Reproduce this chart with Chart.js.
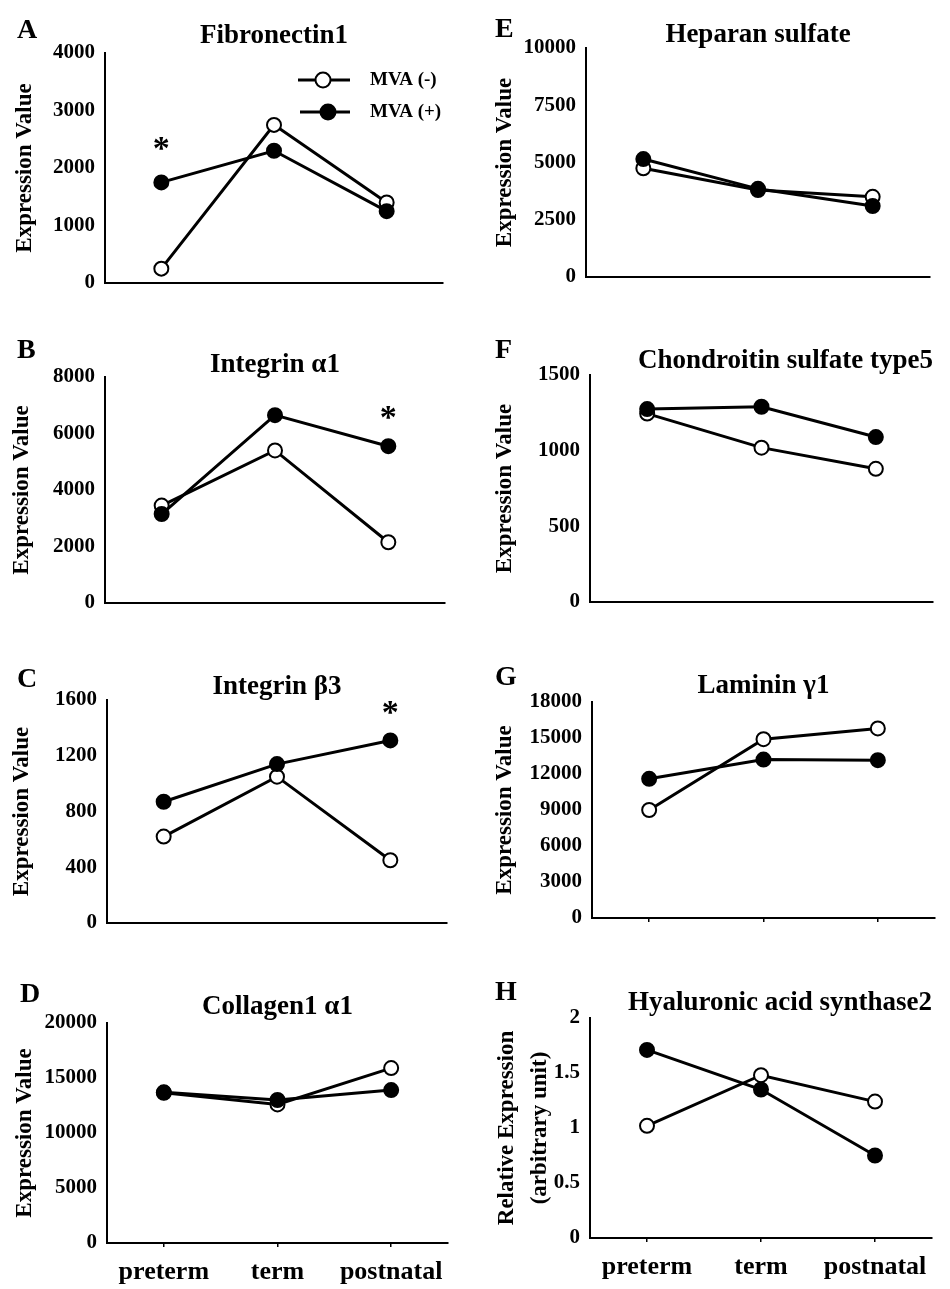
<!DOCTYPE html>
<html>
<head>
<meta charset="utf-8">
<script src="https://cdn.jsdelivr.net/npm/chart.js@4.4.0/dist/chart.umd.min.js"></script>
<style>
body { margin: 0; background: #fff; width: 950px; height: 1289px; position: relative; overflow: hidden; }
.panel { position: absolute; width: 475px; }
.letter { position: absolute; font: bold 28px "Liberation Serif", serif; line-height: 1; color: #000; }
</style>
</head>
<body>
<script>
// x categories
var stages = ['preterm', 'term', 'postnatal'];

// expression values, MVA(-) = open circles, MVA(+) = filled circles
var fibronectinMinus = [250, 2750, 1400];
var fibronectinPlus  = [1750, 2300, 1250];
var integrinA1Minus  = [3450, 5400, 2150];
var integrinA1Plus   = [3150, 6650, 5550];
var integrinB3Minus  = [620, 1050, 450];
var integrinB3Plus   = [870, 1140, 1310];
var collagenMinus    = [13650, 12600, 15900];
var collagenPlus     = [13700, 13000, 13900];
var heparanMinus     = [4750, 3800, 3500];
var heparanPlus      = [5150, 3850, 3100];
var chondroitinMinus = [1245, 1020, 880];
var chondroitinPlus  = [1275, 1290, 1090];
var lamininMinus     = [9000, 14900, 15800];
var lamininPlus      = [11600, 13200, 13150];
var hyaluronicMinus  = [1.02, 1.48, 1.24];
var hyaluronicPlus   = [1.71, 1.35, 0.75];

// significance marks: [category index, value where the * sits]
var fibronectinStar = [0, 2500];
var integrinA1Star  = [2, 6900];
var integrinB3Star  = [2, 1580];

Chart.defaults.font.family = '"Liberation Serif", "Times New Roman", serif';
Chart.defaults.font.weight = 'bold';
Chart.defaults.color = '#000';

var FONT = '"Liberation Serif", "Times New Roman", serif';

// '*' above a point
var starPlugin = {
  id: 'star',
  afterDatasetsDraw: function (chart, args, opts) {
    if (!opts.at) return;
    var ctx = chart.ctx;
    var x = chart.scales.x.getPixelForValue(opts.at[0]);
    var y = chart.scales.y.getPixelForValue(opts.at[1]);
    ctx.save();
    ctx.font = 'bold 34px ' + FONT;
    ctx.fillStyle = '#000';
    ctx.textAlign = 'center';
    ctx.textBaseline = 'alphabetic';
    ctx.fillText('*', x, y + 20);
    ctx.restore();
  }
};

// small legend drawn inside the plot of panel A, MVA(-) on the first row
var insetLegend = {
  id: 'insetLegend',
  afterDatasetsDraw: function (chart, args, opts) {
    if (!opts.display) return;
    var ctx = chart.ctx;
    var a = chart.chartArea;
    var sets = chart.data.datasets.slice().reverse();
    sets.forEach(function (ds, i) {
      var y = a.top + 27 + i * 32;
      var x0 = a.left + 193 + i * 2;
      ctx.save();
      ctx.strokeStyle = '#000';
      ctx.lineWidth = 3;
      ctx.beginPath();
      ctx.moveTo(x0, y);
      ctx.lineTo(a.left + 245, y);
      ctx.stroke();
      ctx.fillStyle = ds.pointBackgroundColor;
      ctx.lineWidth = 2;
      ctx.beginPath();
      ctx.arc(a.left + 218 + i * 5, y, 7.5, 0, Math.PI * 2);
      ctx.fill();
      ctx.stroke();
      ctx.fillStyle = '#000';
      ctx.font = 'bold 19px ' + FONT;
      ctx.textBaseline = 'middle';
      ctx.fillText(ds.label, a.left + 265, y);
      ctx.restore();
    });
  }
};

function series(minus, plus) {
  return [
    { label: 'MVA (+)', data: plus, borderColor: '#000', borderWidth: 3, pointRadius: 7,
      pointBackgroundColor: '#000', pointBorderColor: '#000', pointBorderWidth: 2 },
    { label: 'MVA (-)', data: minus, borderColor: '#000', borderWidth: 3, pointRadius: 7,
      pointBackgroundColor: '#fff', pointBorderColor: '#000', pointBorderWidth: 2 }
  ];
}

var panels = [
  { letter: 'A', title: 'Fibronectin1', minus: fibronectinMinus, plus: fibronectinPlus, max: 4000, step: 1000,
    col: 0, box: [105, 443, 53, 283], gap: 17, yPad: 11, letterAt: [17, 38], star: fibronectinStar, legend: true },
  { letter: 'B', title: 'Integrin \u03b11', minus: integrinA1Minus, plus: integrinA1Plus, max: 8000, step: 2000,
    col: 0, box: [105, 445, 377, 603], gap: 12, yPad: 8, letterAt: [17, 358], star: integrinA1Star },
  { letter: 'C', title: 'Integrin \u03b23', minus: integrinB3Minus, plus: integrinB3Plus, max: 1600, step: 400,
    col: 0, box: [107, 447, 700, 923], gap: 13, yPad: 8, letterAt: [17, 687], star: integrinB3Star },
  { letter: 'D', title: 'Collagen1 \u03b11', minus: collagenMinus, plus: collagenPlus, max: 20000, step: 5000,
    col: 0, box: [107, 448, 1023, 1243], gap: 16, yPad: 11, letterAt: [20, 1002], bottom: true, ticks: true },
  { letter: 'E', title: 'Heparan sulfate', minus: heparanMinus, plus: heparanPlus, max: 10000, step: 2500,
    col: 475, box: [586, 930, 48, 277], gap: 13, yPad: 16, letterAt: [495, 37] },
  { letter: 'F', title: 'Chondroitin sulfate type5', minus: chondroitinMinus, plus: chondroitinPlus, max: 1500, step: 500,
    col: 475, box: [590, 933, 375, 602], gap: 14, yPad: 16, letterAt: [495, 358], align: 'end' },
  { letter: 'G', title: 'Laminin \u03b31', minus: lamininMinus, plus: lamininPlus, max: 18000, step: 3000,
    col: 475, box: [592, 935, 702, 918], gap: 16, yPad: 16, letterAt: [495, 685], ticks: true },
  { letter: 'H', title: 'Hyaluronic acid synthase2', minus: hyaluronicMinus, plus: hyaluronicPlus, max: 2, step: 0.5,
    col: 475, box: [590, 932, 1018, 1238], gap: 15, yPad: 16, letterAt: [495, 1000], bottom: true, ticks: true,
    align: 'end', yTitle: ['Relative Expression', '(arbitrary unit)'] }
];

panels.forEach(function (p) {
  var top = p.box[2] - 50;
  var xh = p.bottom ? 50 : 24;
  var h = 50 + (p.box[3] - p.box[2]) + xh;

  var div = document.createElement('div');
  div.className = 'panel';
  div.style.left = p.col + 'px';
  div.style.top = top + 'px';
  div.style.height = h + 'px';
  var cv = document.createElement('canvas');
  div.appendChild(cv);
  document.body.appendChild(div);

  var lt = document.createElement('div');
  lt.className = 'letter';
  lt.textContent = p.letter;
  lt.style.left = p.letterAt[0] + 'px';
  lt.style.top = (p.letterAt[1] - 23.4) + 'px';
  document.body.appendChild(lt);

  new Chart(cv, {
    type: 'line',
    data: { labels: stages, datasets: series(p.minus, p.plus) },
    plugins: [starPlugin, insetLegend],
    options: {
      responsive: true,
      maintainAspectRatio: false,
      animation: false,
      layout: { padding: { left: 0, top: 0, bottom: 0, right: p.col + 475 - p.box[1] } },
      elements: { line: { tension: 0 } },
      plugins: {
        legend: { display: false },
        tooltip: { enabled: false },
        title: {
          display: true, text: p.title, fullSize: false, align: p.align || 'center',
          font: { size: 27, weight: 'bold', lineHeight: 0.8 },
          padding: { top: 39.2 - p.gap, bottom: p.gap - 10.8 }
        },
        star: { at: p.star },
        insetLegend: { display: !!p.legend }
      },
      scales: {
        x: {
          offset: true,
          grid: { display: !!p.ticks, drawOnChartArea: false, tickLength: 4, color: '#000', lineWidth: 1.5 },
          border: { display: true, color: '#000', width: 2 },
          ticks: { display: !!p.bottom, font: { size: 26, weight: 'bold' }, padding: 10, maxRotation: 0, autoSkip: false },
          afterFit: function (s) { s.height = xh; }
        },
        y: {
          min: 0, max: p.max,
          grid: { display: false },
          border: { display: true, color: '#000', width: 2 },
          ticks: {
            stepSize: p.step, font: { size: 21, weight: 'bold' }, padding: 2,
            callback: function (v) { return String(v); }
          },
          title: {
            display: true,
            text: p.yTitle || 'Expression Value',
            font: p.yTitle ? { size: 23, weight: 'bold', lineHeight: 1.43 } : { size: 23, weight: 'bold', lineHeight: 1.2 },
            padding: { top: p.yPad, bottom: 0 }
          },
          afterFit: function (s) { s.width = p.box[0] - p.col; }
        }
      }
    }
  });
});
</script>
</body>
</html>
